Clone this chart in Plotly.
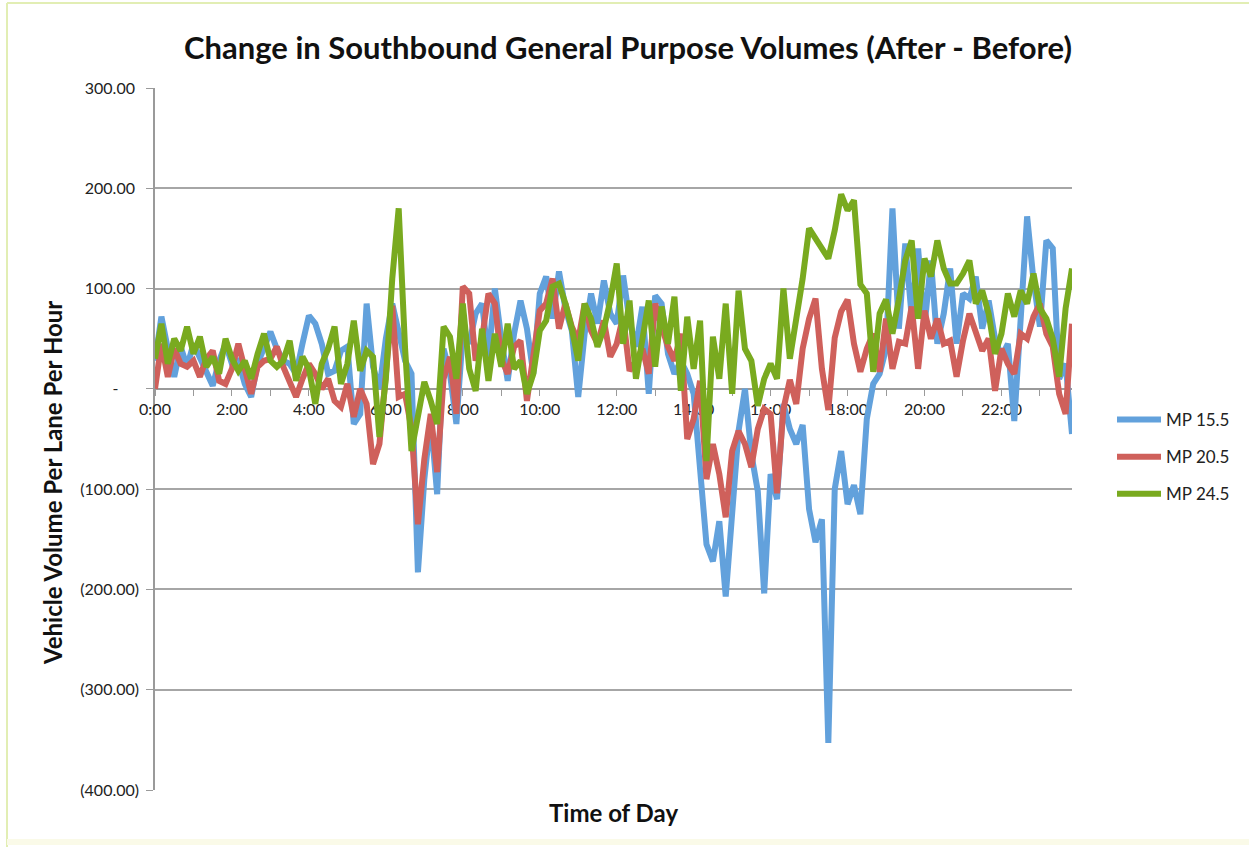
import plotly.graph_objects as go

# 10-minute intervals, hours 0:00 .. 23:50 (6 values per hour)
mp155 = [
    28, 72, 40, 12, 42, 22,
    45, 30, 18, 3, 28, 45,
    25, 28, 5, -8, 25, 40,
    57, 40, 28, 25, 15, 45,
    73, 65, 45, 15, 18, 38,
    42, -35, -25, 85, 22, 0,
    50, 85, 55, 28, 15, -183,
    -90, -30, -105, 40, 15, -35,
    55, 45, 75, 85, 30, 100,
    50, 8, 55, 88, 60, 15,
    95, 112, 70, 117, 80, 58,
    -8, 55, 95, 65, 108, 75,
    65, 113, 68, 42, 82, -5,
    93, 85, 35, 15, 28, 15,
    -5, -75, -155, -172, -132, -207,
    -120, -42, 0, -65, -102, -204,
    -85, -110, -15, -40, -55, -36,
    -120, -153, -130, -353, -100, -62,
    -115, -96, -125, -30, 5, 15,
    40, 180, 60, 145, 72, 140,
    62, 128, 45, 75, 120, 45,
    95, 90, 112, 60, 88, 50,
    32, 45, -32, 60, 172, 108,
    62, 148, 140, 10, 25, -45,
]
mp205 = [
    0, 45, 12, 40, 25, 22,
    28, 12, 30, 38, 8, 5,
    20, 45, 20, -5, 22, 28,
    30, 42, 22, 8, -8, 10,
    25, 15, 0, 10, -12, -18,
    5, -28, 0, -15, -75, -55,
    15, 83, -8, -5, -40, -135,
    -70, -25, -83, 10, 32, -25,
    102, 95, 28, 50, 95, 85,
    30, 15, 42, 48, -12, 30,
    78, 85, 110, 60, 85, 62,
    48, 85, 58, 45, 68, 32,
    45, 72, 18, 28, 40, 15,
    85, 62, 42, 28, 55, -50,
    -30, 8, -90, -55, -85, -128,
    -62, -42, -55, -78, -40, -20,
    -25, -104, -20, 9, -15, 40,
    70, 90, 20, -21, 51, 77,
    89, 45, 17, 40, 55, 17,
    70, 20, 47, 45, 82, 20,
    78, 50, 70, 45, 48, 12,
    48, 75, 55, 38, 50, -2,
    40, 25, 15, 55, 50, 72,
    85, 55, 42, -5, -25, 65,
]
mp245 = [
    30, 65, 25, 50, 38, 62,
    35, 52, 22, 32, 15, 50,
    30, 18, 28, 10, 35, 55,
    28, 22, 28, 48, 8, 32,
    20, -15, 25, 40, 62, 5,
    25, 68, 18, 38, 32, -48,
    10, 110, 180, 40, -62, -25,
    7, -12, -35, 62, 52, 10,
    85, 20, -2, 60, 8, 55,
    22, 65, 20, 28, -5, 15,
    58, 68, 102, 105, 85, 60,
    28, 85, 70, 42, 60, 88,
    125, 45, 88, 10, 50, 88,
    22, 82, 45, 92, -2, 72,
    20, 68, -72, 52, 10, 85,
    -5, 98, 40, 28, -17, 10,
    25, 10, 100, 30, 70, 110,
    160, 150, 140, 130, 158, 194,
    178, 188, 104, 95, 17, 75,
    89, 55, 89, 128, 148, 70,
    130, 112, 148, 120, 105, 105,
    115, 128, 85, 98, 75, 35,
    55, 95, 72, 98, 85, 115,
    80, 70, 50, 12, 80, 120,
]
hours = [i / 6 for i in range(len(mp155))]
series_names = ["MP 15.5", "MP 20.5", "MP 24.5"]
series_colors = ["#62A1DC", "#CF605B", "#79AA1F"]

y_ticks = [300, 200, 100, 0, -100, -200, -300, -400]
y_ticktext = ["300.00\u00a0", "200.00\u00a0", "100.00\u00a0", "-\u00a0\u00a0\u00a0\u00a0\u00a0",
              "(100.00)", "(200.00)", "(300.00)", "(400.00)"]
x_ticks = list(range(24))
x_ticktext = [f"{h}:00" if h % 2 == 0 else "" for h in x_ticks]

FONT = "Lato, 'Open Sans', sans-serif"

fig = go.Figure()
for name, vals, col in zip(series_names, [mp155, mp205, mp245], series_colors):
    fig.add_trace(go.Scatter(x=hours, y=vals, mode="lines", name=name, legendgroup=name,
                             line=dict(color=col, width=6)))

L, R, T, B = 155, 177, 88, 57
W, H = 1249, 847
pw, ph = W - L - R, H - T - B

def px_x(x):
    return (x - L) / pw

def px_y(y):
    return (H - B - y) / ph

fig.update_layout(
    width=W, height=H,
    margin=dict(l=L, r=R, t=T, b=B),
    paper_bgcolor="white", plot_bgcolor="white",
    font=dict(family=FONT, size=16, color="#222"),
    title=dict(text="<b>Change in Southbound General Purpose Volumes (After - Before)</b>",
               xref="container", x=628 / W, xanchor="center",
               yref="container", y=1 - 48 / H, yanchor="middle",
               font=dict(size=31, color="#111")),
    showlegend=True,
    legend=dict(x=px_x(1112), xanchor="left", y=px_y(457), yanchor="middle",
                font=dict(size=17, color="#222"), itemwidth=44, tracegroupgap=12,
                bgcolor="rgba(0,0,0,0)"),
    xaxis=dict(range=[0, hours[-1]], tickmode="array", tickvals=x_ticks, ticktext=x_ticktext,
               showgrid=False, zeroline=False, showline=True, linecolor="#9A9A9A", linewidth=1.5,
               ticks="outside", ticklen=6, tickcolor="#9A9A9A", tickwidth=1.2,
               anchor="free", position=400 / 700, layer="below traces",
               tickfont=dict(size=16, color="#222")),
    yaxis=dict(range=[-400, 300], tickmode="array", tickvals=y_ticks, ticktext=y_ticktext,
               showgrid=True, gridcolor="#A6A6A6", gridwidth=1.5, zeroline=False,
               showline=True, linecolor="#9A9A9A", linewidth=1.5,
               ticks="outside", ticklen=7, tickcolor="#9A9A9A", tickwidth=1.2,
               ticklabelstandoff=4, layer="below traces",
               tickfont=dict(size=16, color="#222")),
)

fig.add_annotation(text="<b>Vehicle Volume Per Lane Per Hour</b>", textangle=-90,
                   x=px_x(52), y=px_y(483), xref="paper", yref="paper",
                   xanchor="center", yanchor="middle",
                   showarrow=False, font=dict(size=24, color="#111"))
fig.add_annotation(text="<b>Time of Day</b>", x=px_x(613), y=px_y(812),
                   xref="paper", yref="paper", xanchor="center", yanchor="middle",
                   showarrow=False, font=dict(size=24, color="#111"))
# chart-area frame (left and top edges visible, faint bottom)
fig.add_shape(type="line", xref="paper", yref="paper",
              x0=px_x(7), x1=px_x(7), y0=px_y(847), y1=px_y(3),
              line=dict(color="#E2EEB4", width=2), layer="below")
fig.add_shape(type="line", xref="paper", yref="paper",
              x0=px_x(7), x1=px_x(1249), y0=px_y(3), y1=px_y(3),
              line=dict(color="#E2EEB4", width=2), layer="below")
fig.add_shape(type="line", xref="paper", yref="paper",
              x0=px_x(7), x1=px_x(1249), y0=px_y(842), y1=px_y(842),
              line=dict(color="#FAFAE8", width=6), layer="below")

fig.write_html("out.html", config={"displayModeBar": False},
               post_script="document.body.style.margin='0';")
